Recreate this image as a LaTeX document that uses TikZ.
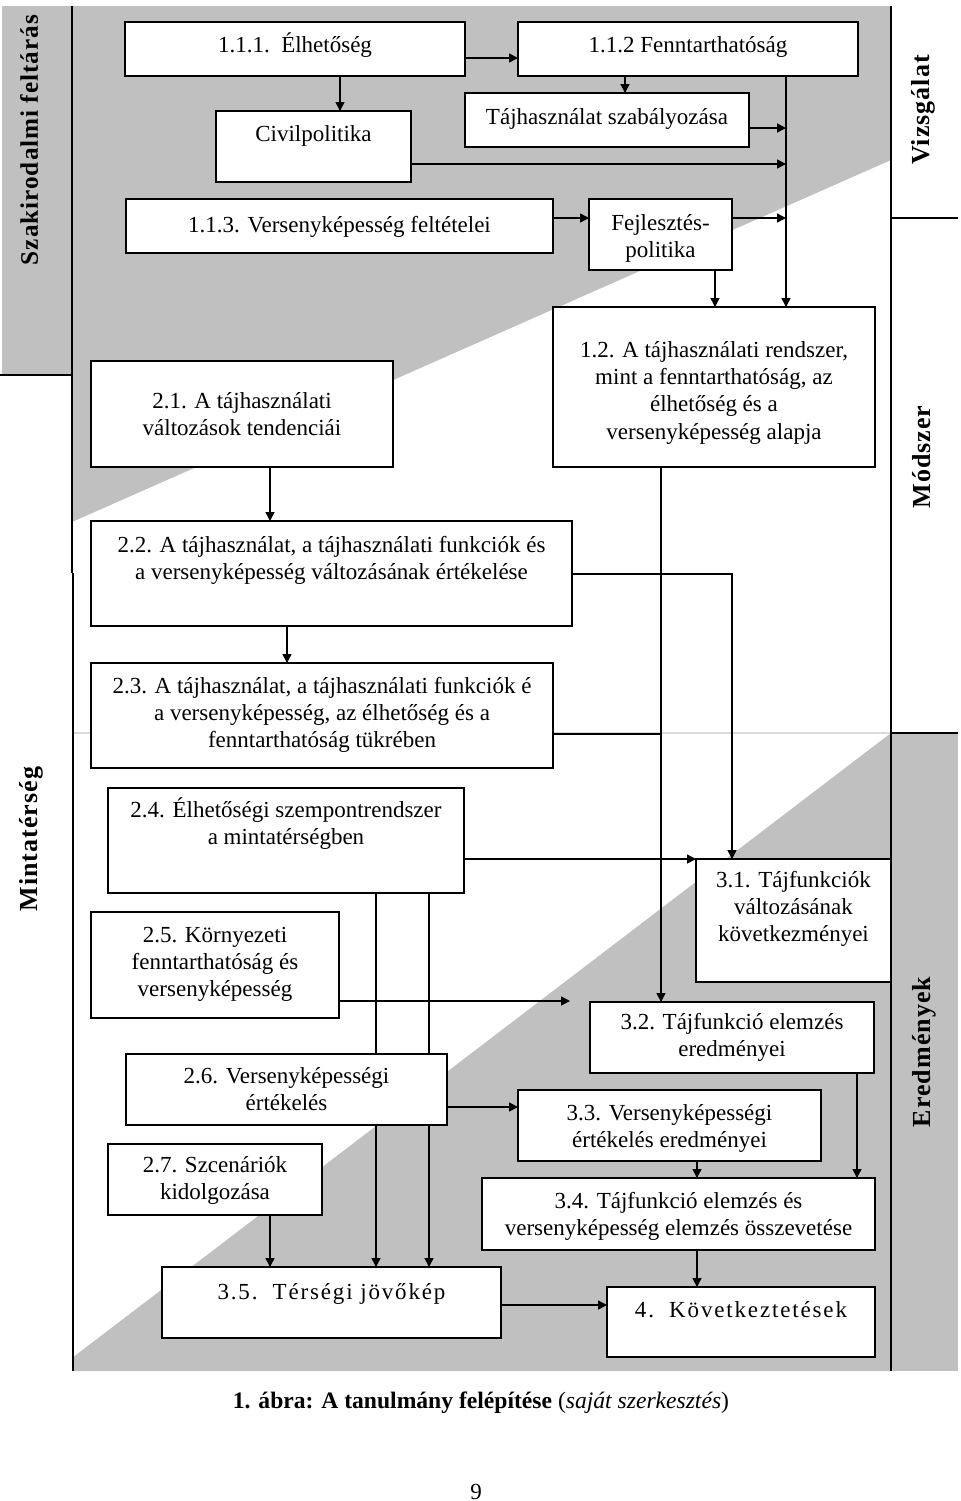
\documentclass[tikz,border=0pt]{standalone}
\usepackage{fontspec}
\setmainfont{Liberation Serif}
\newfontfamily\spacedfont[LetterSpace=8]{Liberation Serif}
\newfontfamily\labelfont[LetterSpace=4]{Liberation Serif}
\usetikzlibrary{arrows.meta}
\definecolor{bgray}{RGB}{192,192,192}
\definecolor{fgray}{RGB}{218,218,218}
\pgfdeclarelayer{back}
\pgfdeclarelayer{mid}
\pgfsetlayers{back,mid,main}
% name, x1, y1, x2, y2, baseline offset (px), font, text
\newcommand\bx[8]{%
  \node[box] (#1) at (#2,#3) {\parbox[c][\dimexpr(#5pt-#3pt)/2\relax][t]{\dimexpr(#4pt-#2pt)/2\relax}{\centering#7\rule{0pt}{\dimexpr#6pt/2\relax}#8\par}};}
\begin{document}
\begin{tikzpicture}[x=0.5pt,y=-0.5pt,
  box/.style={draw, line width=1pt, fill=white, inner sep=0pt, outer sep=0pt, anchor=north west, font=\fontsize{11.5}{13.7}\selectfont},
  arr/.style={line width=0.75pt, -{Triangle[length=4.5pt,width=4.5pt]}},
  ln/.style={line width=0.75pt},
  sidelab/.style={rotate=90, anchor=base, inner sep=0pt, font=\labelfont\bfseries\fontsize{13}{15}\selectfont},
  frame/.style={line width=0.8pt}
]
\useasboundingbox (0,0) rectangle (960,1501);
% background areas and frame
\begin{pgfonlayer}{back}
\fill[bgray] (72,6) -- (891,6) -- (891,160) -- (72,522) -- cycle;
\fill[bgray] (2,6) rectangle (72,375);
\fill[bgray] (891,733) -- (891,1371) -- (72,1371) -- (72,1358) -- cycle;
\fill[bgray] (891,733) rectangle (958,1371);
\draw[fgray, line width=0.6pt] (72,733) -- (891,733);
\draw[line width=1.2pt] (72,6) -- (72,573);
\draw[line width=0.7pt] (73,573) -- (73,1371);
\draw[frame] (891,6) -- (891,1371);
\draw[frame] (0,375) -- (72,375);
\draw[frame] (891,218) -- (958,218);
\draw[frame] (891,733) -- (958,733);
\end{pgfonlayer}
% boxes
\bx{n111}{125}{22}{465}{76}{30}{}{1.1.1.~~Élhetőség}
\bx{n112}{518}{22}{858}{76}{30}{}{1.1.2 Fenntarthatóság}
\bx{nciv}{216}{111}{411}{182}{30}{}{Civilpolitika}
\bx{ntaj}{465}{93}{749}{147}{31}{}{Tájhasználat szabályozása}
\bx{n113}{126}{199}{553}{253}{33}{}{1.1.3. Versenyképesség feltételei}
\bx{nfej}{589}{199}{732}{270}{31}{}{Fejlesztés-\\politika}
\bx{n12}{553}{307}{875}{467}{50}{}{1.2. A tájhasználati rendszer,\\mint a fenntarthatóság, az\\élhetőség és a\\versenyképesség alapja}
\bx{n21}{91}{361}{393}{467}{47}{}{2.1. A tájhasználati\\változások tendenciái}
\bx{n22}{91}{521}{572}{626}{31}{}{2.2. A tájhasználat, a tájhasználati funkciók és\\a versenyképesség változásának értékelése}
\bx{n23}{91}{663}{553}{768}{30}{}{2.3. A tájhasználat, a tájhasználati funkciók é\\a versenyképesség, az élhetőség és a\\fenntarthatóság tükrében}
\bx{n24}{108}{788}{464}{893}{29}{}{2.4. Élhetőségi szempontrendszer\\a mintatérségben}
\bx{n25}{91}{912}{339}{1018}{30}{}{2.5. Környezeti\\fenntarthatóság és\\versenyképesség}
\bx{n26}{126}{1054}{447}{1125}{29}{}{2.6. Versenyképességi\\értékelés}
\bx{n27}{108}{1144}{322}{1215}{28}{}{2.7. Szcenáriók\\kidolgozása}
\bx{n35}{162}{1267}{501}{1338}{32}{\spacedfont}{3.5.~~Térségi jövőkép}
\bx{n31}{696}{859}{891}{982}{28}{}{3.1. Tájfunkciók\\változásának\\következményei}
\bx{n32}{590}{1002}{874}{1073}{27}{}{3.2. Tájfunkció elemzés\\eredményei}
\bx{n33}{518}{1090}{821}{1161}{30}{}{3.3. Versenyképességi\\értékelés eredményei}
\bx{n34}{482}{1178}{875}{1250}{30}{}{3.4. Tájfunkció elemzés és\\versenyképesség elemzés összevetése}
\bx{n4}{607}{1287}{875}{1357}{30}{\spacedfont}{4.~~Következtetések}
% junction coordinates
\coordinate (j1) at (786,128);
\coordinate (j2) at (786,164);
\coordinate (j3) at (786,218);
\coordinate (j4) at (661,734);
\coordinate (e25) at (570,1001);
% connectors (under the boxes)
\begin{pgfonlayer}{mid}
\draw[arr] (n111.east |- 0,58) -- (n112.west |- 0,58);
\draw[arr] (n111.south -| 340,0) -- (nciv.north -| 340,0);
\draw[arr] (n112.south -| 625,0) -- (ntaj.north -| 625,0);
\draw[arr] (n112.south -| 786,0) -- (n12.north -| 786,0);
\draw[arr] (ntaj.east |- j1) -- (j1);
\draw[arr] (nciv.east |- j2) -- (j2);
\draw[arr] (n113.east |- 0,218) -- (nfej.west |- 0,218);
\draw[arr] (nfej.east |- j3) -- (j3);
\draw[arr] (nfej.south -| 715,0) -- (n12.north -| 715,0);
\draw[arr] (n21.south -| 270,0) -- (n22.north -| 270,0);
\draw[arr] (n22.south -| 287,0) -- (n23.north -| 287,0);
\draw[arr] (n12.south -| 661,0) -- (n32.north -| 661,0);
\draw[arr] (n22.east |- 0,574) -| (n31.north -| 732,0);
\draw[ln] (n23.east |- j4) -- (j4);
\draw[arr] (n24.east |- n31.north west) -- (n31.north west);
\draw[arr] (n24.south -| 376,0) -- (n35.north -| 376,0);
\draw[arr] (n24.south -| 429,0) -- (n35.north -| 429,0);
\draw[arr] (n25.east |- e25) -- (e25);
\draw[arr] (n26.east |- 0,1107) -- (n33.west |- 0,1107);
\draw[arr] (n27.south -| 270,0) -- (n35.north -| 270,0);
\draw[arr] (n32.south -| 857,0) -- (n34.north -| 857,0);
\draw[arr] (n33.south -| 697,0) -- (n34.north -| 697,0);
\draw[arr] (n34.south -| 697,0) -- (n4.north -| 697,0);
\draw[arr] (n35.east |- 0,1305) -- (n4.west |- 0,1305);
\end{pgfonlayer}
% side labels
\node[sidelab, font=\labelfont\bfseries\fontsize{12.6}{15}\selectfont] (lszak) at (38,140) {Szakirodalmi feltárás};
\node[sidelab] (lvizs) at (929,110) {Vizsgálat};
\node[sidelab] (lmod) at (930,457) {Módszer};
\node[sidelab] (lmint) at (38,839) {Mintatérség};
\node[sidelab] (lered) at (930,1052) {Eredmények};
% caption and page number
\node[anchor=base, inner sep=0pt, font=\fontsize{11.8}{13}\selectfont] (cap) at (481,1408) {\textbf{1. ábra: A tanulmány felépítése} (\textit{saját szerkesztés})};
\node[anchor=base, inner sep=0pt, font=\fontsize{11.5}{13}\selectfont] (pnum) at (476,1499) {9};
\end{tikzpicture}
\end{document}
